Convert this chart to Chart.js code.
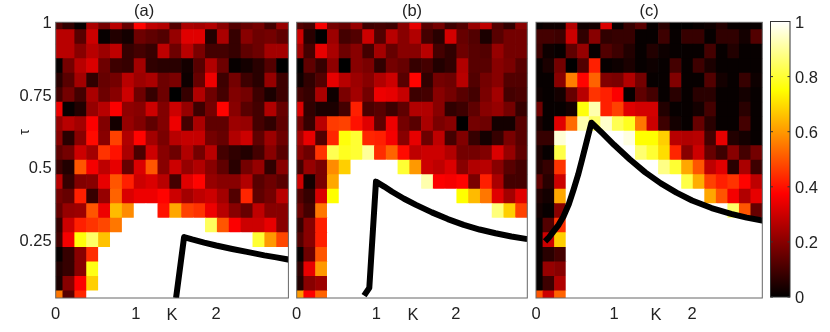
<!DOCTYPE html>
<html>
<head>
<meta charset="utf-8">
<title>heat maps</title>
<script src="https://cdn.jsdelivr.net/npm/chart.js@4/dist/chart.umd.min.js"></script>
<style>
html, body { margin: 0; padding: 0; background: #fff; }
canvas { position: absolute; top: 0; }
</style>
</head>
<body>
<canvas id="panelA" width="336" height="332" style="left:0"></canvas>
<canvas id="panelB" width="240" height="332" style="left:292px"></canvas>
<canvas id="panelC" width="238" height="332" style="left:530px"></canvas>
<canvas id="colorBar" width="70" height="332" style="left:760px"></canvas>
<script>
// cell centres
var kCenters = [0.015, 0.163, 0.311, 0.459, 0.607, 0.755, 0.903, 1.051, 1.199, 1.347, 1.495, 1.643, 1.791, 1.939, 2.087, 2.235, 2.383, 2.531, 2.679, 2.827];
var tauCenters = [1, 0.95, 0.9, 0.85, 0.8, 0.75, 0.7, 0.65, 0.6, 0.55, 0.5, 0.45, 0.4, 0.35, 0.3, 0.25, 0.2, 0.15, 0.1, 0.05];

// tick labels
var kTicks = [0, 1, 2];
var tauTicks = [1, 0.75, 0.5, 0.25];
var barTicks = [0, 0.2, 0.4, 0.6, 0.8, 1];

// cell values, top row first
var valuesA = [
  [.12,.07,.01,.25,.17,.27,.15,.38,.28,.26,.12,.25,.24,.26,.2,.12,.15,.17,.1,.22],
  [.27,.27,.13,.3,.01,.05,.03,.16,.14,.12,.22,.33,.33,.05,.25,.08,.2,.16,.17,.14],
  [.27,.27,.2,.27,.23,.28,.08,.1,.08,.28,.16,.27,.18,.1,.1,.08,.14,.16,.24,.24],
  [.01,.17,.27,.32,.16,.09,.08,.24,.07,.06,.06,.03,.13,.26,.16,.01,.03,.06,.12,0],
  [.06,.13,.24,.07,.15,.17,.27,.23,.25,.16,.18,.02,.15,.35,.09,.17,.09,.06,.22,.09],
  [.1,.17,.1,.25,.16,.2,.3,.16,.08,.16,0,.08,.26,.16,.1,.19,.17,.09,.04,.09],
  [.35,.01,.05,.22,.27,.37,.21,.2,.3,.19,.3,.22,.09,.17,.38,.2,.13,.1,.26,.15],
  [.22,.27,.24,.37,.19,.03,.22,.19,.14,.19,.35,.1,.25,.14,.14,.23,.22,.1,.07,.14],
  [.2,.06,.2,.39,.2,.47,.26,.38,.24,.18,.27,.29,.29,.17,.15,.26,.3,.14,.23,.16],
  [.14,.17,.3,.24,.45,.4,.25,.11,.3,.2,.16,.26,.17,.27,.1,.07,.05,.1,.2,.13],
  [.09,.05,.5,.36,.28,.34,.15,.32,.5,.2,.3,.22,.26,.2,.14,.06,.17,.22,.07,.2],
  [.27,.08,.19,.2,.34,.5,.42,.3,.32,.27,.1,.33,.38,.22,.2,.2,.26,.13,.16,.13],
  [.17,.15,.42,.08,.22,.52,.32,.35,.35,.38,.3,.24,.28,.3,.24,.12,.43,.14,.17,.27],
  [.15,.22,.23,.5,.35,.65,.58,1,1,.4,.62,.47,.45,.35,.27,.2,.15,.28,.2,.2],
  [.08,.3,.42,.45,.48,.55,1,1,1,1,1,1,1,.84,.5,.37,.3,.3,.34,.2],
  [.1,.36,.76,.85,.66,1,1,1,1,1,1,1,1,1,1,1,1,.8,.6,.48],
  [.01,.08,.2,.44,1,1,1,1,1,1,1,1,1,1,1,1,1,1,1,1],
  [.05,.08,.2,.77,1,1,1,1,1,1,1,1,1,1,1,1,1,1,1,1],
  [.04,.2,.37,.68,1,1,1,1,1,1,1,1,1,1,1,1,1,1,1,1],
  [.55,.13,.43,1,1,1,1,1,1,1,1,1,1,1,1,1,1,1,1,1]
];
var valuesB = [
  [.12,.1,.36,.17,.15,.22,.09,.1,.09,.2,.34,.13,.17,.09,.12,.22,.28,.12,.07,.2],
  [.3,.06,0,.23,.1,.12,.3,.12,.27,.2,.26,.1,.06,.31,.15,.12,.04,.13,.17,.17],
  [.24,.1,.34,.25,.16,.2,.1,.24,.15,.2,.2,.27,.1,.07,.16,.13,.12,.22,.17,.17],
  [0,.14,.08,.21,0,.2,.18,.07,.17,.15,.08,.1,.05,.07,.26,.13,.13,.2,.18,.13],
  [.02,.07,.12,.34,.27,.23,.2,.26,.3,.13,.38,.07,.17,.16,.27,.12,.17,.2,.12,.12],
  [.1,.08,.25,.02,.18,.24,.17,.35,.34,.29,.09,.1,.2,.17,.13,.1,.18,.24,.1,.11],
  [.32,.07,.04,.04,.1,.42,.11,.13,.09,.14,.26,.26,.2,.07,.09,.14,.2,.22,.17,.08],
  [.17,.08,.27,.46,.47,.4,.33,.14,.35,.17,.13,.25,.18,.2,0,.17,.16,.03,.03,.13],
  [.24,.34,.12,.43,.76,.8,.43,.42,.36,.2,.34,.16,.28,.1,.19,.08,.03,.08,.18,.13],
  [.2,.16,.45,.83,.78,.8,.9,.44,.52,.39,.28,.3,.3,.26,.17,.17,.19,.32,.22,.14],
  [.1,.22,.18,.58,.68,1,1,1,1,.8,.6,.3,.28,.32,.2,.26,.27,.2,.13,.1],
  [.3,.03,.18,.62,1,1,1,1,1,1,1,.92,.37,.36,.38,.18,.42,.25,.1,.1],
  [.12,.08,.32,.75,1,1,1,1,1,1,1,1,1,1,.75,.65,.55,.33,.24,.33],
  [.16,.1,.55,1,1,1,1,1,1,1,1,1,1,1,1,1,1,.87,.68,.47],
  [.08,.2,.42,1,1,1,1,1,1,1,1,1,1,1,1,1,1,1,1,1],
  [.12,.2,.42,1,1,1,1,1,1,1,1,1,1,1,1,1,1,1,1,1],
  [.01,.16,.5,1,1,1,1,1,1,1,1,1,1,1,1,1,1,1,1,1],
  [.07,.34,.6,1,1,1,1,1,1,1,1,1,1,1,1,1,1,1,1,1],
  [.05,.2,.23,1,1,1,1,1,1,1,1,1,1,1,1,1,1,1,1,1],
  [.6,.37,.52,1,1,1,1,1,1,1,1,1,1,1,1,1,1,1,1,1]
];
var valuesC = [
  [.01,.02,.02,.26,.02,.03,.32,.01,.08,.13,.01,.06,0,0,.01,.02,.05,.01,.01,.01],
  [.1,.1,.09,.3,.07,.2,.07,.08,.08,.01,.01,.09,.01,.08,.08,.01,.07,.07,.03,.12],
  [.09,.02,.01,.14,.22,.01,.12,.09,.05,.01,.05,.02,.01,.01,.01,.1,.01,.05,.01,.01],
  [.01,.04,.17,0,.12,.42,.01,.02,.04,.01,.02,.01,.1,.01,.09,.04,.01,.01,.01,.01],
  [.01,.01,.2,.56,.38,.52,.19,.18,.26,.17,.01,.01,.19,.01,.01,.12,.03,.01,.08,.02],
  [.02,.01,.03,.15,.27,.45,.42,.37,.01,.14,.1,.01,.06,.01,.06,.06,.01,.01,.03,.01],
  [.16,.01,.01,.03,.76,.92,.42,.47,.33,.31,.31,.05,.01,.01,.03,.1,.01,.01,.06,.01],
  [.04,.01,.33,.53,.92,.85,.95,.83,.78,.55,.3,.09,.03,.01,.15,.06,.01,.01,.1,.01],
  [.08,.08,.96,1,1,1,1,1,.97,.75,.75,.68,.27,.26,.27,.1,.34,.05,.03,.01],
  [.04,.01,.82,1,1,1,1,1,1,.86,.8,.7,.43,.2,.3,.15,.09,.2,.1,.17],
  [.05,.08,.45,1,1,1,1,1,1,1,1,.88,.8,.62,.5,.28,.33,.06,.25,.09],
  [.14,.06,.3,1,1,1,1,1,1,1,1,1,1,.82,.63,.47,.42,.45,.38,.28],
  [.05,.03,.62,1,1,1,1,1,1,1,1,1,1,1,1,.62,.5,.36,.26,.34],
  [.03,.01,.2,1,1,1,1,1,1,1,1,1,1,1,1,1,1,.85,.5,.15],
  [.01,.12,.45,1,1,1,1,1,1,1,1,1,1,1,1,1,1,1,1,1],
  [.01,.3,.68,1,1,1,1,1,1,1,1,1,1,1,1,1,1,1,1,1],
  [.01,.06,.1,1,1,1,1,1,1,1,1,1,1,1,1,1,1,1,1,1],
  [.01,.22,.2,1,1,1,1,1,1,1,1,1,1,1,1,1,1,1,1,1],
  [.01,.09,.26,1,1,1,1,1,1,1,1,1,1,1,1,1,1,1,1,1],
  [.5,.3,.52,1,1,1,1,1,1,1,1,1,1,1,1,1,1,1,1,1]
];

// black boundary curves
var curveKA = [1.5, 1.6, 1.7, 1.85, 2.0, 2.2, 2.4, 2.6, 2.75, 2.91];
var curveTauA = [0.05, 0.26, 0.252, 0.241, 0.231, 0.219, 0.208, 0.197, 0.19, 0.182];
var curveKB = [0.847, 0.913, 0.997, 1.1, 1.2, 1.35, 1.5, 1.7, 1.9, 2.1, 2.3, 2.5, 2.7, 2.9];
var curveTauB = [0.058, 0.085, 0.451, 0.434, 0.416, 0.392, 0.371, 0.345, 0.322, 0.302, 0.286, 0.273, 0.262, 0.253];
var curveKC = [0.116, 0.17, 0.22, 0.29, 0.352, 0.42, 0.481, 0.54, 0.59, 0.65, 0.71, 0.85, 1.0, 1.2, 1.4, 1.6, 1.8, 2.0, 2.25, 2.5, 2.7, 2.92];
var curveTauC = [0.245, 0.26, 0.278, 0.302, 0.331, 0.373, 0.423, 0.475, 0.526, 0.59, 0.654, 0.618, 0.578, 0.528, 0.483, 0.445, 0.413, 0.386, 0.36, 0.34, 0.327, 0.316];

var fontName = '"Liberation Sans", Arial, sans-serif';
var fontSize = 16.5;
var textColor = '#222';
// labels sit a little under their tick in the original
var tauLabelShift = 0.0045;
var barLabelShift = 0.0055;

// matlab "hot" colour map
function hot(v) {
    var r = Math.min(1, v / 0.375);
    var g = Math.max(0, Math.min(1, (v - 0.375) / 0.375));
    var b = Math.max(0, Math.min(1, (v - 0.75) / 0.25));
    return 'rgb(' + Math.round(r * 255) + ',' + Math.round(g * 255) + ',' + Math.round(b * 255) + ')';
}

function buildCells(values) {
    var cells = [];
    var colors = [];
    for (var r = 0; r < tauCenters.length; r++) {
        for (var c = 0; c < kCenters.length; c++) {
            cells.push({ x: kCenters[c], y: [tauCenters[r] - 0.025, tauCenters[r] + 0.025] });
            colors.push(hot(values[r][c]));
        }
    }
    return { cells: cells, colors: colors };
}

function buildCurve(ks, taus) {
    return ks.map(function(k, i) { return { x: k, y: taus[i] }; });
}

// grey box round the plot, and axis names where the original put them
var framePlugin = {
    id: 'frame',
    afterDraw: function(chart, args, opts) {
        var ctx = chart.ctx;
        var a = chart.chartArea;
        ctx.save();
        ctx.strokeStyle = opts.color;
        ctx.lineWidth = 1;
        ctx.strokeRect(a.left, a.top, a.right - a.left, a.bottom - a.top);
        ctx.fillStyle = textColor;
        ctx.textAlign = 'center';
        ctx.textBaseline = 'middle';
        if (opts.kAt) {
            ctx.font = fontSize + 'px ' + fontName;
            ctx.fillText('K', opts.kAt, 315);
        }
        if (opts.tauAt) {
            ctx.font = '14px ' + fontName;
            ctx.translate(opts.tauAt, 132);
            ctx.rotate(-Math.PI / 2);
            ctx.fillText('τ', 0, 0);
        }
        ctx.restore();
    }
};

function makePanel(id, values, curve, title, pad, showTau, kAt) {
    var heat = buildCells(values);
    new Chart(document.getElementById(id).getContext('2d'), {
        type: 'bar',
        data: {
            datasets: [{
                type: 'line',
                data: curve,
                borderColor: '#000',
                borderWidth: 6,
                borderJoinStyle: 'round',
                pointRadius: 0,
                tension: 0,
                order: 0
            }, {
                data: heat.cells,
                backgroundColor: heat.colors,
                borderWidth: 0,
                categoryPercentage: 1,
                barPercentage: 1,
                order: 1
            }]
        },
        plugins: [framePlugin],
        options: {
            responsive: false,
            animation: false,
            layout: { padding: pad },
            plugins: {
                legend: { display: false },
                tooltip: { enabled: false },
                title: {
                    display: true,
                    text: title,
                    color: textColor,
                    font: { family: fontName, size: fontSize, weight: 'normal' },
                    padding: { top: 2, bottom: 0.5 }
                },
                frame: { color: '#666', kAt: kAt, tauAt: showTau ? 25 : 0 }
            },
            scales: {
                x: {
                    type: 'linear',
                    offset: false,
                    min: 0,
                    max: 2.9,
                    grid: { display: false, drawTicks: false },
                    border: { display: false },
                    afterBuildTicks: function(axis) {
                        axis.ticks = kTicks.map(function(v) { return { value: v }; });
                    },
                    afterFit: function(axis) {
                        axis.height = 34;
                        axis.paddingLeft = 0;
                        axis.paddingRight = 0;
                    },
                    ticks: {
                        color: textColor,
                        padding: 7,
                        maxRotation: 0,
                        autoSkip: false,
                        font: { family: fontName, size: fontSize },
                        callback: function(v) { return String(v); }
                    }
                },
                y: {
                    min: 0.05,
                    max: 1,
                    display: showTau,
                    grid: { display: false, drawTicks: false },
                    border: { display: false },
                    afterBuildTicks: function(axis) {
                        axis.ticks = tauTicks.map(function(v) { return { value: v - tauLabelShift }; });
                    },
                    afterFit: function(axis) { axis.width = showTau ? 55.7 : 0; },
                    ticks: {
                        color: textColor,
                        padding: 4,
                        autoSkip: false,
                        font: { family: fontName, size: fontSize },
                        callback: function(v, i) { return String(tauTicks[i]); }
                    }
                }
            }
        }
    });
}

makePanel('panelA', valuesA, buildCurve(curveKA, curveTauA), '(a)', { left: 0, right: 47.6, top: 0, bottom: 0 }, true, 172);
makePanel('panelB', valuesB, buildCurve(curveKB, curveTauB), '(b)', { left: 4.7, right: 4.7, top: 0, bottom: 0 }, false, 413 - 292);
makePanel('panelC', valuesC, buildCurve(curveKC, curveTauC), '(c)', { left: 6, right: 5.7, top: 0, bottom: 0 }, false, 656 - 530);

// colour scale
var barTickMarks = {
    id: 'barTickMarks',
    afterDraw: function(chart) {
        var ctx = chart.ctx;
        var a = chart.chartArea;
        var y = chart.scales.y;
        ctx.save();
        ctx.strokeStyle = '#333';
        ctx.lineWidth = 1;
        ctx.strokeRect(a.left, a.top, a.right - a.left, a.bottom - a.top);
        barTicks.forEach(function(v) {
            var py = y.getPixelForValue(v);
            ctx.beginPath();
            ctx.moveTo(a.left, py);
            ctx.lineTo(a.left + 2.5, py);
            ctx.moveTo(a.right - 2.5, py);
            ctx.lineTo(a.right, py);
            ctx.stroke();
        });
        ctx.restore();
    }
};

new Chart(document.getElementById('colorBar').getContext('2d'), {
    type: 'bar',
    data: {
        labels: [''],
        datasets: [{
            data: [[0, 1]],
            borderWidth: 0,
            categoryPercentage: 1,
            barPercentage: 1,
            backgroundColor: function(context) {
                var a = context.chart.chartArea;
                if (!a) return '#000';
                var g = context.chart.ctx.createLinearGradient(0, a.bottom, 0, a.top);
                g.addColorStop(0, hot(0));
                g.addColorStop(0.375, hot(0.375));
                g.addColorStop(0.75, hot(0.75));
                g.addColorStop(1, hot(1));
                return g;
            }
        }]
    },
    plugins: [barTickMarks],
    options: {
        responsive: false,
        animation: false,
        layout: { padding: { left: 10.5, right: 0, top: 21.5, bottom: 35 } },
        plugins: { legend: { display: false }, tooltip: { enabled: false } },
        scales: {
            x: { display: false },
            y: {
                position: 'right',
                min: 0,
                max: 1,
                grid: { display: false, drawTicks: false },
                border: { display: false },
                afterBuildTicks: function(axis) {
                    axis.ticks = barTicks.map(function(v) { return { value: v - barLabelShift }; });
                },
                afterFit: function(axis) { axis.width = 40; },
                ticks: {
                    color: textColor,
                    padding: 5,
                    font: { family: fontName, size: fontSize },
                    callback: function(v, i) { return String(barTicks[i]); }
                }
            }
        }
    }
});
</script>
</body>
</html>
